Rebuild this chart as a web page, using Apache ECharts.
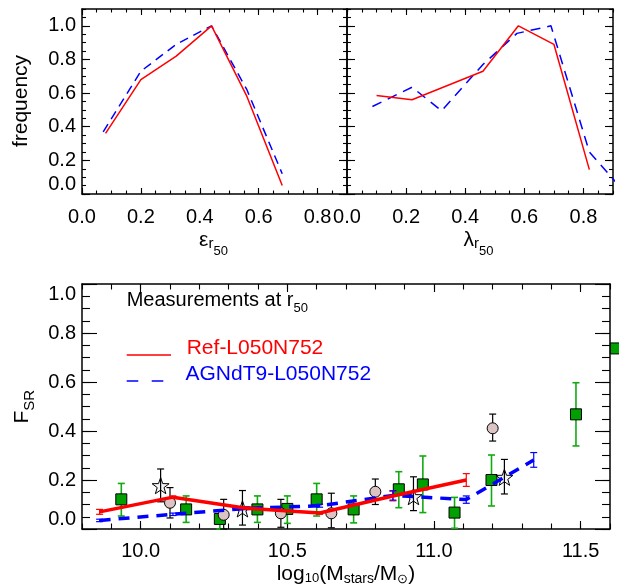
<!DOCTYPE html>
<html>
<head>
<meta charset="utf-8">
<script src="https://cdn.jsdelivr.net/npm/echarts@6/dist/echarts.min.js"></script>
<style>
html, body { margin: 0; padding: 0; background: #fff; }
#chart-panel { width: 619px; height: 585px; }
</style>
</head>
<body>
<div id="chart-panel"></div>
<script>
(function () {
  var myChart = echarts.init(document.querySelector('#chart-panel'));
  var FONT = 'Liberation Sans, Arial, Helvetica, sans-serif';

  // top left: ellipticity distribution
  var epsRefX = [0.08, 0.2, 0.32, 0.44, 0.56, 0.68];
  var epsRefY = [0.36, 0.68, 0.82, 1.0, 0.58, 0.05];
  var epsAgnX = [0.072, 0.2, 0.32, 0.44, 0.56, 0.68];
  var epsAgnY = [0.37, 0.73, 0.89, 1.0, 0.62, 0.12];

  // top right: lambda distribution
  var lamRefX = [0.1, 0.22, 0.34, 0.46, 0.58, 0.7, 0.82];
  var lamRefY = [0.585, 0.56, 0.645, 0.73, 1.0, 0.89, 0.145];
  var lamAgnX = [0.086, 0.22, 0.32, 0.46, 0.575, 0.69, 0.82, 0.94];
  var lamAgnY = [0.52, 0.635, 0.495, 0.77, 0.955, 1.0, 0.25, 0.01];

  // bottom: simulations
  var refMass = [9.86, 10.11, 10.36, 10.61, 10.86, 11.11];
  var refF    = [0.07, 0.13, 0.085, 0.065, 0.135, 0.2];
  var refErr  = [0.01, 0.005, 0.005, 0.005, 0.02, 0.026];
  var agnMass = [9.86, 10.11, 10.36, 10.61, 10.86, 11.11, 11.34];
  var agnF    = [0.035, 0.06, 0.084, 0.095, 0.137, 0.12, 0.282];
  var agnErr  = [0.005, 0.005, 0.005, 0.006, 0.019, 0.015, 0.03];

  // bottom: observations (squares)
  var sqMass = [9.934, 10.155, 10.27, 10.398, 10.5, 10.60, 10.726, 10.88, 10.962, 11.07, 11.196, 11.484, 11.62];
  var sqF    = [0.121, 0.08, 0.041, 0.08, 0.082, 0.121, 0.08, 0.162, 0.182, 0.067, 0.2, 0.468, 0.737];
  var sqLo   = [0.053, 0.027, 0.0, 0.027, 0.023, 0.053, 0.025, 0.087, 0.067, 0.003, 0.094, 0.339, 0.737];
  var sqHi   = [0.186, 0.135, 0.078, 0.135, 0.135, 0.186, 0.135, 0.234, 0.298, 0.129, 0.302, 0.597, 0.737];

  // circles
  var ciMass = [10.10, 10.283, 10.478, 10.65, 10.80, 11.2];
  var ciF    = [0.107, 0.058, 0.064, 0.064, 0.152, 0.411];
  var ciLo   = [0.045, 0.0, 0.007, 0.005, 0.10, 0.359];
  var ciHi   = [0.169, 0.121, 0.121, 0.146, 0.204, 0.469];

  // stars
  var stMass = [10.068, 10.347, 10.93, 11.24];
  var stF    = [0.177, 0.082, 0.132, 0.211];
  var stLo   = [0.111, 0.016, 0.075, 0.143];
  var stHi   = [0.245, 0.157, 0.213, 0.284];

  // tick labels
  var fracTicks = [0.0, 0.2, 0.4, 0.6, 0.8];
  var freqTicks = [0.0, 0.2, 0.4, 0.6, 0.8, 1.0];
  var massTicks = [10.0, 10.5, 11.0, 11.5];
  var fsrTicks  = [0.0, 0.2, 0.4, 0.6, 0.8, 1.0];

  function pairs(xs, ys) {
    return xs.map(function (x, i) { return [x, ys[i]]; });
  }
  function ranges(xs, lo, hi) {
    return xs.map(function (x, i) { return [x, lo[i], hi[i]]; });
  }
  function plusMinus(xs, ys, es) {
    return xs.map(function (x, i) { return [x, ys[i] - es[i], ys[i] + es[i]]; });
  }
  var fmt = function (v) { return Number(v).toFixed(1); };

  var xAxes = [], yAxes = [];
  // box axes: minor ticks axis + major ticks axis on both sides
  function addAxes(list, dim, grid, min, max, majors, minorStep, majLen, minLen, labelOpt) {
    var sides = dim === 'x' ? ['bottom', 'top'] : ['left', 'right'];
    var first = list.length;
    sides.forEach(function (side, s) {
      list.push({
        type: 'value', gridIndex: grid, position: side, min: min, max: max, interval: minorStep,
        axisLine: { show: true, onZero: false, lineStyle: { color: '#000', width: 1.5 } },
        axisTick: { show: true, inside: true, length: minLen, lineStyle: { color: '#000', width: 1.1 } },
        axisLabel: { show: false },
        splitLine: { show: false }
      });
      var lab = { show: false };
      if (s === 0 && labelOpt) {
        lab = Object.assign({
          show: true, customValues: majors, color: '#000',
          fontFamily: FONT, fontSize: 20, formatter: fmt
        }, labelOpt);
      }
      list.push({
        type: 'value', gridIndex: grid, position: side, min: min, max: max,
        axisLine: { show: false, onZero: false },
        axisTick: { show: true, inside: true, length: majLen, customValues: majors,
                    lineStyle: { color: '#000', width: 1.1 } },
        axisLabel: lab,
        splitLine: { show: false }
      });
    });
    return first;
  }

  var x0 = addAxes(xAxes, 'x', 0, 0, 0.9, fracTicks, 0.05, 6, 3.5, { margin: 13 });
  var y0 = addAxes(yAxes, 'y', 0, 0, 1.1, freqTicks, 0.05, 8, 4, { margin: 6, verticalAlignMinLabel: 'bottom' });
  var x1 = addAxes(xAxes, 'x', 1, 0, 0.9, fracTicks, 0.05, 6, 3.5, { margin: 13 });
  var y1 = addAxes(yAxes, 'y', 1, 0, 1.1, freqTicks, 0.05, 8, 4, null);
  var x2 = addAxes(xAxes, 'x', 2, 9.8, 11.6, massTicks, 0.1, 8, 5.5, { margin: 12 });
  var y2 = addAxes(yAxes, 'y', 2, 0, 1.0, fsrTicks, 0.05, 15, 8,
    { margin: 6, verticalAlignMinLabel: 'bottom', verticalAlignMaxLabel: 'top' });

  function errorBars(data, color, cap, width, z) {
    return {
      type: 'custom', xAxisIndex: x2, yAxisIndex: y2, z: z, silent: true,
      data: data,
      encode: { x: 0, y: [1, 2] },
      renderItem: function (params, api) {
        var x = api.value(0), lo = api.value(1), hi = api.value(2);
        if (hi - lo < 1e-6) return { type: 'group', children: [] };
        var p0 = api.coord([x, lo]), p1 = api.coord([x, hi]);
        var st = { stroke: color, lineWidth: width };
        return { type: 'group', children: [
          { type: 'line', shape: { x1: p0[0], y1: p0[1], x2: p1[0], y2: p1[1] }, style: st },
          { type: 'line', shape: { x1: p0[0] - cap, y1: p0[1], x2: p0[0] + cap, y2: p0[1] }, style: st },
          { type: 'line', shape: { x1: p1[0] - cap, y1: p1[1], x2: p1[0] + cap, y2: p1[1] }, style: st }
        ] };
      }
    };
  }

  var starPath = 'path://M0,-10L2.35,-3.24L9.51,-3.09L3.8,1.24L5.88,8.09L0,4L-5.88,8.09L-3.8,1.24L-9.51,-3.09L-2.35,-3.24Z';

  var series = [
    // top left
    { type: 'line', xAxisIndex: x0, yAxisIndex: y0, data: pairs(epsAgnX, epsAgnY), symbol: 'none',
      lineStyle: { color: '#0000ff', width: 1.5, type: [9, 6] } },
    { type: 'line', xAxisIndex: x0, yAxisIndex: y0, data: pairs(epsRefX, epsRefY), symbol: 'none',
      lineStyle: { color: '#ff0000', width: 1.5 } },
    // top right
    { type: 'line', xAxisIndex: x1, yAxisIndex: y1, data: pairs(lamAgnX, lamAgnY), symbol: 'none',
      lineStyle: { color: '#0000ff', width: 1.5, type: [10, 7] } },
    { type: 'line', xAxisIndex: x1, yAxisIndex: y1, data: pairs(lamRefX, lamRefY), symbol: 'none',
      lineStyle: { color: '#ff0000', width: 1.5 } },
    // bottom: error bars
    errorBars(ranges(sqMass, sqLo, sqHi), '#11aa11', 3.5, 1.6, 2),
    errorBars(ranges(ciMass, ciLo, ciHi), '#000000', 3.5, 1.2, 2),
    { type: 'scatter', xAxisIndex: x2, yAxisIndex: y2, data: pairs(sqMass, sqF), symbol: 'rect',
      symbolSize: 11, clip: false, z: 3,
      itemStyle: { color: '#00a000', borderColor: '#000', borderWidth: 1, opacity: 1 } },
    { type: 'scatter', xAxisIndex: x2, yAxisIndex: y2, data: pairs(ciMass, ciF), symbol: 'circle',
      symbolSize: 11, z: 3,
      itemStyle: { color: '#dcc4c4', borderColor: '#000', borderWidth: 1, opacity: 1 } },
    { type: 'scatter', xAxisIndex: x2, yAxisIndex: y2, data: pairs(stMass, stF), symbol: starPath,
      symbolSize: 17, symbolKeepAspect: true, z: 3,
      itemStyle: { color: 'rgba(235,235,235,0.5)', borderColor: '#000', borderWidth: 1, opacity: 1 } },
    errorBars(ranges(stMass, stLo, stHi), '#000000', 3.5, 1.2, 4),
    errorBars(plusMinus(refMass, refF, refErr), '#ff0000', 3.5, 1.2, 4),
    errorBars(plusMinus(agnMass, agnF, agnErr), '#0000ff', 3.5, 1.2, 4),
    { type: 'line', xAxisIndex: x2, yAxisIndex: y2, data: pairs(agnMass, agnF), symbol: 'none', z: 5,
      lineStyle: { color: '#0000ff', width: 3.5, type: [11, 8] } },
    { type: 'line', xAxisIndex: x2, yAxisIndex: y2, data: pairs(refMass, refF), symbol: 'none', z: 5,
      lineStyle: { color: '#ff0000', width: 3.5 } }
  ];

  function txt(x, y, text, size, color, extra) {
    return Object.assign({
      type: 'text', x: x, y: y, silent: true,
      style: Object.assign({
        text: text, fill: color || '#000', fontSize: size, fontFamily: FONT,
        align: 'center', verticalAlign: 'middle'
      }, extra || {})
    });
  }
  function sub(size, pad, color) {
    return { fontSize: size, fontFamily: FONT, fill: color || '#000', padding: [pad, 0, 0, 0] };
  }

  var graphic = [
    Object.assign(txt(21.6, 101, 'frequency', 21), { rotation: Math.PI / 2 }),
    txt(213.5, 240, 'ε{s|r}{ss|50}', 21, '#000', { rich: { s: sub(15, 8), ss: sub(13, 22) } }),
    txt(478.5, 240, 'λ{s|r}{ss|50}', 21, '#000', { rich: { s: sub(15, 8), ss: sub(13, 22) } }),
    Object.assign(txt(22.3, 406.7, 'F{s|SR}', 21, '#000', { rich: { s: sub(15, 16) } }), { rotation: Math.PI / 2 }),
    txt(346, 574, 'log{s|10}(M{t|stars}/M{u|⊙})', 21, '#000',
      { rich: { s: sub(13, 9), t: sub(14, 10), u: sub(13, 10) } }),
    txt(126.7, 300.4, 'Measurements at r{s|50}', 20, '#000',
      { align: 'left', rich: { s: sub(13, 16) } }),
    txt(186.7, 348.5, 'Ref-L050N752', 21, '#ff0000', { align: 'left' }),
    txt(185.5, 374.7, 'AGNdT9-L050N752', 21, '#0000ff', { align: 'left' }),
    { type: 'line', silent: true, shape: { x1: 126.7, y1: 355, x2: 171, y2: 355 },
      style: { stroke: '#ff0000', lineWidth: 1.5 } },
    { type: 'line', silent: true, shape: { x1: 126.7, y1: 381, x2: 163.3, y2: 381 },
      style: { stroke: '#0000ff', lineWidth: 1.5, lineDash: [11.6, 13.4] } }
  ];

  var option = {
    animation: false,
    backgroundColor: '#fff',
    grid: [
      { left: 82, top: 9, width: 265, height: 185, outerBoundsMode: 'none', containLabel: false },
      { left: 347, top: 9, width: 266, height: 185, outerBoundsMode: 'none', containLabel: false },
      { left: 82, top: 284, width: 528, height: 245, outerBoundsMode: 'none', containLabel: false }
    ],
    xAxis: xAxes,
    yAxis: yAxes,
    series: series,
    graphic: graphic
  };

  myChart.setOption(option);
})();
</script>
</body>
</html>
